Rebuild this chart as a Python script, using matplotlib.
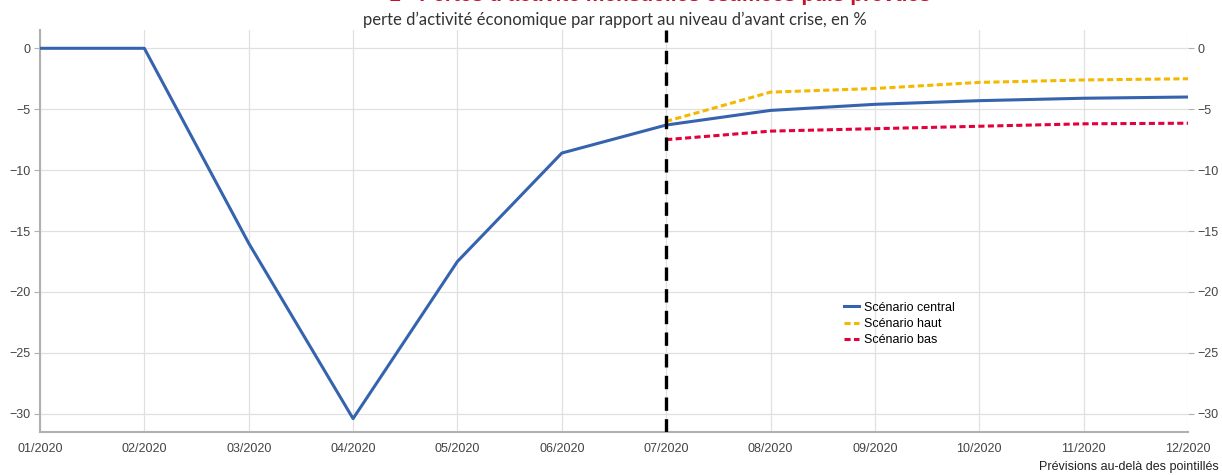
import matplotlib.pyplot as plt
import numpy as np

plt.rcParams["font.family"] = ["Liberation Sans", "DejaVu Sans"]

months = ["01/2020", "02/2020", "03/2020", "04/2020", "05/2020", "06/2020",
          "07/2020", "08/2020", "09/2020", "10/2020", "11/2020", "12/2020"]
central = [0, 0, -16, -30.4, -17.5, -8.6, -6.3, -5.1, -4.6, -4.3, -4.1, -4.0]
haut = [-6.0, -3.6, -3.3, -2.8, -2.6, -2.5]
bas = [-7.5, -6.8, -6.6, -6.4, -6.2, -6.15]
yticks = [0, -5, -10, -15, -20, -25, -30]

x = np.arange(len(months))
xf = x[6:]

fig = plt.figure(figsize=(12.22, 4.75), dpi=100)
ax = fig.add_axes([0.0327, 0.0905, 0.9395, 0.8463])

ax.plot(x, central, color="#3563ae", lw=2.2, label="Scénario central", zorder=4)
ax.plot(xf, haut, color="#f5b800", lw=2.2, ls=(0, (2, 1.1)), label="Scénario haut", zorder=3)
ax.plot(xf, bas, color="#e4003a", lw=2.2, ls=(0, (2, 1.1)), label="Scénario bas", zorder=3)
ax.axvline(6, color="black", lw=2.4, ls=(0, (4, 2.5)), zorder=5)

ax.set_xlim(0, 11)
ax.set_ylim(-31.5, 1.5)
ax.set_xticks(x)
ax.set_xticklabels(months)
ax.set_yticks(yticks)
ax.grid(True, color="#e0e0e0", lw=0.9)
ax.set_axisbelow(True)

for s in ["top", "right"]:
    ax.spines[s].set_visible(False)
for s in ["left", "bottom"]:
    ax.spines[s].set_color("#b0b0b0")
    ax.spines[s].set_linewidth(1.5)

ax.tick_params(axis="both", colors="#b0b0b0", labelcolor="#444444", labelsize=9, length=4)
ax.tick_params(axis="x", length=0, pad=8)
ax.tick_params(axis="y", which="both", right=True, labelright=True, length=4, pad=3)

leg = ax.legend(loc="upper left", bbox_to_anchor=(0.695, 0.34), frameon=False,
                fontsize=9, handlelength=1.2, handletextpad=0.4, labelspacing=0.35,
                borderpad=0)

fig.text(0.54, 1.009, "1 - Pertes d’activité mensuelles estimées puis prévues",
         ha="center", va="center", fontsize=15, fontweight="bold", color="#c8102e")
fig.text(0.503, 0.958, "perte d’activité économique par rapport au niveau d’avant crise, en %",
         ha="center", va="center", fontsize=12, color="#333333",
         family=["Lato", "DejaVu Sans"])
fig.text(0.997, 0.016, "Prévisions au-delà des pointillés", ha="right", va="center",
         fontsize=9, color="#222222")

fig.savefig("out.png", dpi=100)
